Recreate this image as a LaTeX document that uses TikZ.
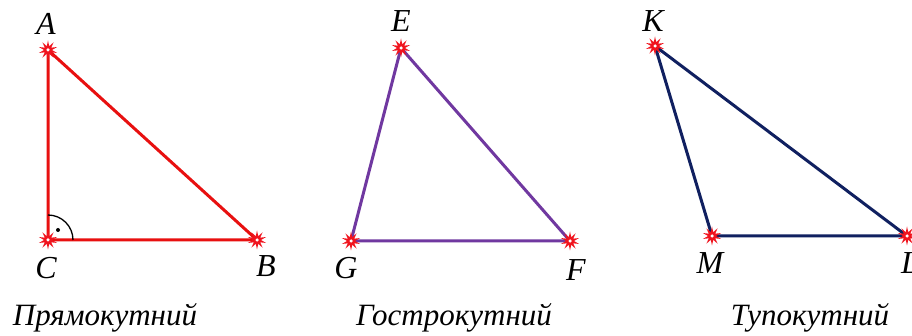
\documentclass[tikz,border=0pt]{standalone}
\usepackage{fontspec}
\setmainfont{Liberation Serif}
\usetikzlibrary{shapes.geometric}
\definecolor{redl}{RGB}{232,16,16}
\definecolor{purp}{RGB}{112,56,160}
\definecolor{navy}{RGB}{16,32,96}
\definecolor{starred}{RGB}{240,20,30}
\tikzset{
  vtx/.style={star,star points=10,star point ratio=2.4,minimum size=19pt,inner sep=0pt,fill=starred,draw=none},
  vlabel/.style={font=\fontsize{32}{34}\selectfont\itshape,inner sep=0pt},
  caption/.style={font=\fontsize{31}{33}\selectfont\itshape,inner sep=0pt,anchor=base},
  side/.style={line width=3pt,line cap=round,line join=round},
  core/.style={circle,fill=white,minimum size=3.5pt,inner sep=0pt}
}
\begin{document}
\begin{tikzpicture}[x=1pt,y=-1pt]
\useasboundingbox (0,0) rectangle (912,336);
\fill[white] (0,0) rectangle (912,336);
% coordinates
\coordinate (A) at (48,50);
\coordinate (C) at (48,240);
\coordinate (B) at (257,240);
\coordinate (E) at (401,48);
\coordinate (G) at (351,241);
\coordinate (F) at (570,241);
\coordinate (K) at (655,46);
\coordinate (M) at (712,236);
\coordinate (L) at (907,236);
% sides
\draw[side,redl] (A) -- (B) -- (C) -- cycle;
\draw[side,purp] (E) -- (F) -- (G) -- cycle;
\draw[side,navy] (K) -- (L) -- (M) -- cycle;
% right angle mark
\draw[line width=1.3pt,black] ([xshift=25pt]C) arc[start angle=0,end angle=90,radius=25pt];
\fill[black] ([xshift=10pt,yshift=10pt]C) circle[radius=2pt];
% vertex markers
\foreach \p in {A,B,C,E,F,G,K,L,M}{
  \node[vtx] (s\p) at (\p) {};
  \node[core] at (\p) {};
}
% labels
\node[vlabel] (lA) at (46,24) {A};
\node[vlabel] (lC) at (46,268) {C};
\node[vlabel] (lB) at (266,266) {B};
\node[vlabel] (lE) at (401,21) {E};
\node[vlabel] (lG) at (346,268) {G};
\node[vlabel] (lF) at (576,270) {F};
\node[vlabel] (lK) at (653,21) {K};
\node[vlabel] (lM) at (710,263) {M};
\node[vlabel] (lL) at (910,263) {L};
% captions
\node[caption] (c1) at (105,325) {Прямокутний};
\node[caption] (c2) at (454,325) {Гострокутний};
\node[caption] (c3) at (810,325) {Тупокутний};
\end{tikzpicture}
\end{document}
